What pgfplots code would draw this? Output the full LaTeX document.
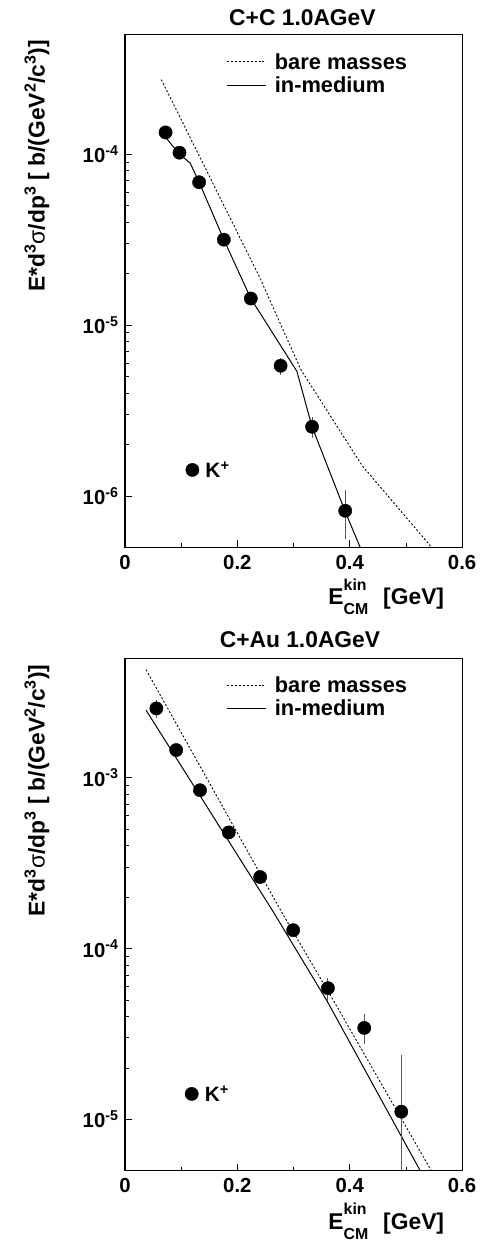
\documentclass[border=0pt]{standalone}
\usepackage{pgfplots}
\pgfplotsset{compat=1.18}
\usepackage{fontspec}
\setmainfont{Liberation Sans}

\pgfplotstableread{
x y ep em
0.0723 1.34e-4 0 0
0.097 1.02e-4 0 0
0.132 6.85e-5 0 0
0.176 3.16e-5 0 0
0.224 1.43e-5 0 0
0.277 5.78e-6 0.62e-6 0.65e-6
0.333 2.54e-6 0.35e-6 0.35e-6
0.392 8.19e-7 0.26e-6 0.26e-6
}\dataCC

\pgfplotstableread{
x y ep em
0.0559 2.54e-3 0.3e-3 0.3e-3
0.0912 1.45e-3 0 0
0.1336 8.44e-4 0 0
0.1847 4.78e-4 0 0
0.2406 2.62e-4 0 0
0.2994 1.28e-4 0 0
0.3612 5.86e-5 0.9e-5 0.9e-5
0.4259 3.43e-5 0.72e-5 0.68e-5
0.4918 1.11e-5 1.27e-5 1.08e-5
}\dataCAu

\pgfplotsset{
  every axis/.append style={
    scale only axis, width=340pt, height=517pt,
    xmin=0, xmax=0.6,
    xtick={0,0.2,0.4,0.6}, minor x tick num=1,
    xtick pos=bottom, ytick pos=left,
    tick align=inside,
    major tick length=7pt, minor tick length=4pt,
    axis line style={line width=1.2pt},
    every tick/.style={black, line width=0.8pt},
    tick label style={font=\fontsize{20.5}{22}\selectfont\bfseries},
    xticklabel style={yshift=-4pt},
    yticklabel style={xshift=-3pt},
    legend style={draw=none, fill=none, anchor=north west, at={(rel axis cs:0.3,0.968)},
      font=\fontsize{22}{24}\selectfont\bfseries, inner sep=0pt, row sep=2pt,
      column sep=6pt, legend cell align=left},
    legend image code/.code={\draw[##1] (0pt,0pt) -- (40pt,0pt);},
  },
}
\tikzset{
  bareline/.style={black, line width=0.9pt, dash pattern=on 2pt off 2pt},
  medline/.style={black, line width=1pt},
}
\newcommand{\xlab}{E{\fontsize{16}{25}\selectfont\raisebox{-10pt}{\begin{tabular}[b]{@{}l@{}}kin\\CM\end{tabular}}}\hspace{15pt}[GeV]}
\newcommand{\ylab}{E*d\textsuperscript{3}{\mdseries σ}/dp\textsuperscript{3} [ b/(GeV\textsuperscript{2}/c\textsuperscript{3})]}

\begin{document}
\begin{tikzpicture}
\path (0pt,0pt) rectangle (487pt,1247pt);

% ---------- top panel ----------
\begin{semilogyaxis}[at={(126pt,695pt)}, anchor=south west, ymin=5e-7, ymax=5e-4,
  ytick={1e-6,1e-5,1e-4},
  xticklabel={\pgfmathprintnumber[fixed,precision=1,assume math mode=true]{\tick}},
  yticklabel={10\textsuperscript{\pgfmathparse{int(round(\tick/2.302585093))}\pgfmathresult}}]
\addplot[bareline] coordinates {(0.0647,2.73e-4) (0.2395,1.91e-5) (0.313,5.49e-6)
  (0.4217,1.51e-6) (0.5394,5.3e-7) (0.55,4.75e-7)};
\addlegendentry{bare masses}
\addplot[medline] coordinates {(0.0735,1.24e-4) (0.097,1.0e-4) (0.116,8.87e-5)
  (0.132,6.85e-5) (0.176,3.16e-5) (0.224,1.43e-5) (0.306,5.36e-6)
  (0.333,2.54e-6) (0.392,8.1e-7) (0.43,4.07e-7)};
\addlegendentry{in-medium}
\addplot[only marks, mark=*, mark size=6.7pt, black, forget plot,
  error bars/.cd, y dir=both, y explicit, error mark=none,
  error bar style={line width=1pt, black!65}]
  table[x=x, y=y, y error plus=ep, y error minus=em] {\dataCC};
\addplot[only marks, mark=*, mark size=6.7pt, black, forget plot] coordinates {(0.12,1.42e-6)}
  node[anchor=base west, inner sep=0pt, xshift=13pt, yshift=-7.7pt,
       font=\fontsize{21}{22}\selectfont\bfseries] {K\textsuperscript{+}};
\end{semilogyaxis}

% ---------- bottom panel ----------
\begin{semilogyaxis}[at={(126pt,66.3pt)}, anchor=south west, ymin=5e-6, ymax=5e-3,
  ytick={1e-5,1e-4,1e-3},
  xticklabel={\pgfmathprintnumber[fixed,precision=1,assume math mode=true]{\tick}},
  yticklabel={10\textsuperscript{\pgfmathparse{int(round(\tick/2.302585093))}\pgfmathresult}}]
\addplot[bareline] coordinates {(0.0376,4.28e-3) (0.2776,1.66e-4) (0.3718,4.91e-5)
  (0.5453,5e-6) (0.56,4.12e-6)};
\addlegendentry{bare masses}
\addplot[medline] coordinates {(0.0376,2.48e-3) (0.2629,1.66e-4) (0.36,4.91e-5)
  (0.5247,5.06e-6) (0.54,4.09e-6)};
\addlegendentry{in-medium}
\addplot[only marks, mark=*, mark size=6.7pt, black, forget plot,
  error bars/.cd, y dir=both, y explicit, error mark=none,
  error bar style={line width=1pt, black!65}]
  table[x=x, y=y, y error plus=ep, y error minus=em] {\dataCAu};
\addplot[only marks, mark=*, mark size=6.7pt, black, forget plot] coordinates {(0.1188,1.41e-5)}
  node[anchor=base west, inner sep=0pt, xshift=13pt, yshift=-7.7pt,
       font=\fontsize{21}{22}\selectfont\bfseries] {K\textsuperscript{+}};
\end{semilogyaxis}

% ---------- titles and labels ----------
\node[anchor=base, font=\fontsize{23}{26}\selectfont\bfseries] at (305pt,1221pt) {C+C 1.0AGeV};
\node[anchor=base, font=\fontsize{23}{26}\selectfont\bfseries] at (302.5pt,593.7pt) {C+Au 1.0AGeV};

\node[rotate=90, anchor=base east, inner sep=0pt, font=\fontsize{23}{26}\selectfont\bfseries]
  at (45pt,1207pt) {\ylab};
\node[rotate=90, anchor=base east, inner sep=0pt, font=\fontsize{23}{26}\selectfont\bfseries]
  at (45pt,577pt) {\ylab};

\node[anchor=base east, inner sep=0pt, font=\fontsize{23}{26}\selectfont\bfseries]
  at (448pt,637pt) {\xlab};
\node[anchor=base east, inner sep=0pt, font=\fontsize{23}{26}\selectfont\bfseries]
  at (448pt,7pt) {\xlab};
\end{tikzpicture}
\end{document}
